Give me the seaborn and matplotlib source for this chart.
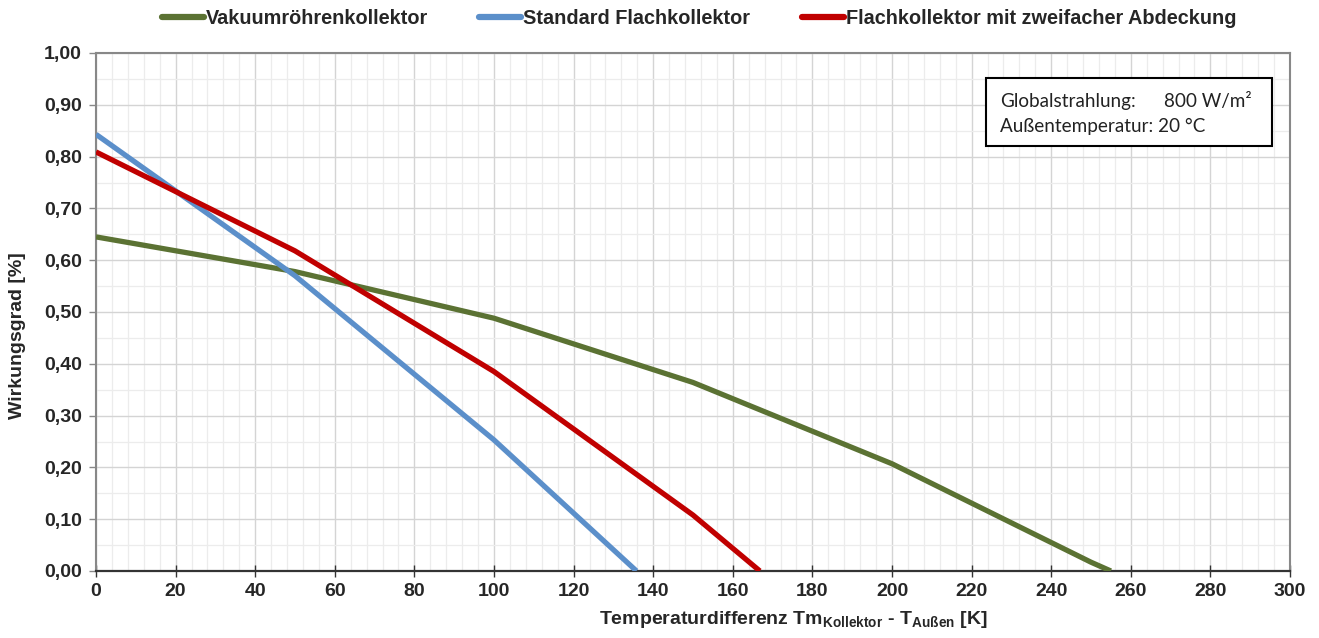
import numpy as np
import pandas as pd
import matplotlib
matplotlib.use("Agg")
import matplotlib.pyplot as plt
from matplotlib.ticker import MultipleLocator, FuncFormatter
from matplotlib.lines import Line2D
from matplotlib.patches import Rectangle
import seaborn as sns

# Data
vak_x = [0, 50, 100, 150, 200, 250, 255]
vak_y = [0.645, 0.578, 0.488, 0.364, 0.207, 0.017, 0.0]
std_x = [0, 50, 100, 135.8]
std_y = [0.843, 0.570, 0.253, 0.0]
dop_x = [0, 50, 100, 150, 166.8]
dop_y = [0.809, 0.618, 0.385, 0.108, 0.0]

names = ["Vakuumröhrenkollektor", "Standard Flachkollektor",
         "Flachkollektor mit zweifacher Abdeckung"]
colors = ["#5B7233", "#5B8FCA", "#C00000"]

info_labels = ["Globalstrahlung:", "Außentemperatur: 20 °C"]
info_value = "800 W/m²"

df = pd.concat([
    pd.DataFrame({"x": vak_x, "y": vak_y, "s": names[0]}),
    pd.DataFrame({"x": std_x, "y": std_y, "s": names[1]}),
    pd.DataFrame({"x": dop_x, "y": dop_y, "s": names[2]}),
])

sns.set_theme(style="white")
plt.rcParams['font.family'] = ['Liberation Sans', 'DejaVu Sans']

fig = plt.figure(figsize=(13.19, 6.38), dpi=100)
ax = fig.add_axes([96/1319, 1-571/638, (1290-96)/1319, (571-53)/638])

sns.lineplot(data=df, x="x", y="y", hue="s", palette=dict(zip(names, colors)),
             linewidth=3.8, sort=False, estimator=None, ax=ax, legend=False,
             solid_capstyle="butt", zorder=3)

ax.set_xlim(0, 300)
ax.set_ylim(0, 1.0)
ax.xaxis.set_major_locator(MultipleLocator(20))
ax.xaxis.set_minor_locator(MultipleLocator(4))
ax.yaxis.set_major_locator(MultipleLocator(0.1))
ax.yaxis.set_minor_locator(MultipleLocator(0.05))
ax.grid(which="major", color="#d4d4d4", linewidth=1.0, zorder=0)
ax.grid(which="minor", color="#ececec", linewidth=0.9, zorder=0)
ax.set_axisbelow(True)

ax.yaxis.set_major_formatter(FuncFormatter(lambda v, p: f"{v:.2f}".replace(".", ",")))
ax.xaxis.set_major_formatter(FuncFormatter(lambda v, p: f"{int(round(v))}"))

ax.tick_params(axis="x", which="major", direction="inout", length=8, width=1.0,
               color="#333333", labelsize=14, pad=5, bottom=True)
ax.tick_params(axis="x", which="minor", length=0)
ax.tick_params(axis="y", which="major", direction="out", length=5, width=1.0,
               color="#888888", labelsize=14, pad=5, left=True)
ax.tick_params(axis="y", which="minor", length=0)
for lab in ax.get_xticklabels() + ax.get_yticklabels():
    lab.set_fontweight("bold")

for sp in ["top", "right", "left"]:
    ax.spines[sp].set_color("#888888")
    ax.spines[sp].set_linewidth(1.5)
ax.spines["bottom"].set_color("#333333")
ax.spines["bottom"].set_linewidth(1.6)

ax.set_ylabel("Wirkungsgrad [%]", fontsize=14, fontweight="bold")
ax.yaxis.set_label_coords(-0.0585, 0.454)
ax.set_xlabel(r"Temperaturdifferenz Tm$_{\mathregular{Kollektor}}$ - T$_{\mathregular{Außen}}$ [K]",
              fontsize=14, fontweight="bold")
ax.xaxis.set_label_coords(0.584, -0.074)

handles = [Line2D([0], [0], color=c, linewidth=4.5, solid_capstyle="round") for c in colors]
leg = ax.legend(handles, names, loc="center", bbox_to_anchor=(0.505, 1.0 + 35/518),
                ncol=3, frameon=False, handlelength=2.1, handletextpad=0.1,
                columnspacing=2.6, prop={"weight": "bold", "size": 14.3})

# info box
ax.add_patch(Rectangle((0.7454, 0.8205), 0.985 - 0.7454, 0.9517 - 0.8205,
                       transform=ax.transAxes, facecolor="white", edgecolor="black",
                       linewidth=1.5, zorder=5))
fam = ["Lato", "DejaVu Sans"]
ax.text(0.7571, 0.907, info_labels[0], transform=ax.transAxes, ha="left", va="center",
        fontsize=13.6, family=fam, zorder=6, color="#222222")
ax.text(0.8945, 0.907, info_value, transform=ax.transAxes, ha="left", va="center",
        fontsize=13.6, family=fam, zorder=6, color="#222222")
ax.text(0.7571, 0.859, info_labels[1], transform=ax.transAxes, ha="left", va="center",
        fontsize=13.6, family=fam, zorder=6, color="#222222")

fig.savefig("out.png", dpi=100)
